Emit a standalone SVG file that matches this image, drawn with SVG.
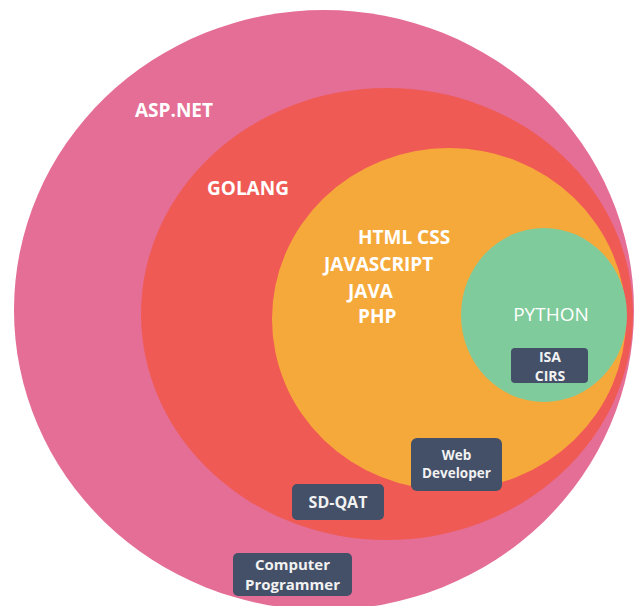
<svg xmlns="http://www.w3.org/2000/svg" width="639" height="606" viewBox="0 0 639 606">
  <style>
    .lbl { font-family: "Open Sans", "Liberation Sans", sans-serif; font-weight: 700; font-size: 19px; fill: #ffffff; }
    .lbl-reg { font-family: "Open Sans", "Liberation Sans", sans-serif; font-weight: 400; font-size: 19px; fill: #ffffff; }
    .tag { fill: #435068; }
    .tag-text { font-family: "Open Sans", "Liberation Sans", sans-serif; font-weight: 700; fill: #f2f2f2; text-anchor: middle; }
  </style>
  <rect width="639" height="606" fill="#ffffff"/>

  <!-- nested skill sets, outermost first -->
  <g id="aspnet">
    <ellipse cx="324" cy="310" rx="310" ry="300" fill="#E46E96"/>
    <text class="lbl" x="135" y="117">ASP.NET</text>
  </g>
  <g id="golang">
    <ellipse cx="387" cy="314" rx="246" ry="226" fill="#F05A55"/>
    <text class="lbl" x="207" y="195">GOLANG</text>
  </g>
  <g id="web-stack">
    <ellipse cx="449" cy="319" rx="177" ry="171" fill="#F6A93B"/>
    <text class="lbl" x="358" y="244">HTML CSS</text>
    <text class="lbl" x="324" y="271">JAVASCRIPT</text>
    <text class="lbl" x="348" y="298">JAVA</text>
    <text class="lbl" x="358" y="323">PHP</text>
  </g>
  <g id="python">
    <ellipse cx="544" cy="315" rx="83" ry="87" fill="#7FCB9B"/>
    <text class="lbl-reg" x="551" y="321" text-anchor="middle">PYTHON</text>
  </g>

  <!-- role tags -->
  <g id="tag-isa-cirs">
    <rect class="tag" x="511" y="348" width="77" height="35" rx="4"/>
    <text class="tag-text" x="550" y="362" font-size="14">ISA</text>
    <text class="tag-text" x="550" y="381" font-size="14">CIRS</text>
  </g>
  <g id="tag-web-developer">
    <rect class="tag" x="411" y="438" width="91" height="53" rx="6"/>
    <text class="tag-text" x="456.5" y="460" font-size="13.5">Web</text>
    <text class="tag-text" x="456.5" y="478" font-size="13.5">Developer</text>
  </g>
  <g id="tag-sd-qat">
    <rect class="tag" x="292" y="484" width="92" height="36" rx="5"/>
    <text class="tag-text" x="338" y="508" font-size="16">SD-QAT</text>
  </g>
  <g id="tag-computer-programmer">
    <rect class="tag" x="233" y="553" width="119" height="43" rx="5"/>
    <text class="tag-text" x="292.5" y="570" font-size="15">Computer</text>
    <text class="tag-text" x="292.5" y="590" font-size="15">Programmer</text>
  </g>

  <g id="connectors"/>
</svg>
